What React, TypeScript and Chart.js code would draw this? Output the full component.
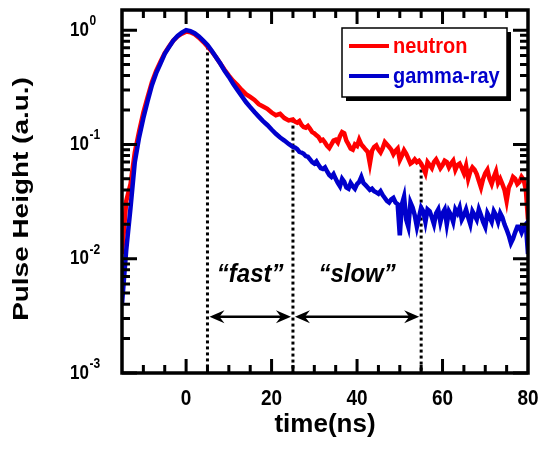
import React, { useEffect, useRef } from "react";
import { Chart, registerables } from "chart.js";
Chart.register(...registerables);

const times = [
  -15, -14, -13, -12, -11, -10, -9, -8, -7, -6, -5, -4, -3, -2, -1,
  0, 1, 2, 3, 4, 5, 6, 7, 8, 9, 10, 11, 12, 13, 14, 15, 16, 17, 18, 19, 20, 21, 22, 23, 24,
  25, 25.5, 26, 26.5, 27, 27.5, 28, 28.5, 29, 29.5, 30, 30.5, 31, 31.5, 32, 32.5, 33, 33.5, 34, 34.5,
  35, 35.5, 36, 36.5, 37, 37.5, 38, 38.5, 39, 39.5, 40, 40.5, 41, 41.5, 42, 42.5, 43, 43.5, 44, 44.5,
  45, 45.5, 46, 46.5, 47, 47.5, 48, 48.5, 49, 49.5, 50, 50.5, 51, 51.5, 52, 52.5, 53, 53.5, 54, 54.5,
  55, 55.5, 56, 56.5, 57, 57.5, 58, 58.5, 59, 59.5, 60, 60.5, 61, 61.5, 62, 62.5, 63, 63.5, 64, 64.5,
  65, 65.5, 66, 66.5, 67, 67.5, 68, 68.5, 69, 69.5, 70, 70.5, 71, 71.5, 72, 72.5, 73, 73.5, 74, 74.5,
  75, 75.5, 76, 76.5, 77, 77.5, 78, 78.5, 79, 79.5, 80,
];

const neutron = [
  0.011, 0.032, 0.045, 0.085, 0.13, 0.19, 0.26, 0.35, 0.44, 0.53, 0.63, 0.72, 0.81, 0.88, 0.93,
  0.97, 0.96, 0.92, 0.86, 0.79, 0.72, 0.65, 0.58, 0.51, 0.45, 0.4, 0.36, 0.33, 0.3, 0.275, 0.26, 0.245, 0.225, 0.215, 0.205, 0.19, 0.18, 0.185, 0.17, 0.162,
  0.165, 0.158, 0.155, 0.16, 0.148, 0.142, 0.14, 0.145, 0.137, 0.128, 0.125, 0.12, 0.116, 0.108, 0.11, 0.104, 0.097, 0.093, 0.1, 0.108,
  0.11, 0.104, 0.118, 0.128, 0.125, 0.108, 0.1, 0.092, 0.09, 0.1, 0.097, 0.11, 0.1, 0.095, 0.09, 0.086, 0.068, 0.088, 0.095, 0.098,
  0.09, 0.085, 0.093, 0.105, 0.1, 0.095, 0.09, 0.082, 0.088, 0.092, 0.073, 0.08, 0.089, 0.083, 0.075, 0.068, 0.07, 0.074, 0.07, 0.072,
  0.068, 0.062, 0.056, 0.07, 0.066, 0.062, 0.07, 0.074, 0.068, 0.062, 0.066, 0.072, 0.07, 0.063, 0.068, 0.072, 0.06, 0.066, 0.068, 0.062,
  0.056, 0.065, 0.05, 0.058, 0.063, 0.06, 0.055, 0.048, 0.042, 0.05, 0.056, 0.06, 0.05, 0.045, 0.052, 0.058, 0.046, 0.05, 0.045, 0.04,
  0.032, 0.042, 0.046, 0.052, 0.05, 0.045, 0.047, 0.052, 0.049, 0.04, 0.022,
];

const gamma = [
  0.004, 0.012, 0.028, 0.07, 0.115, 0.17, 0.24, 0.33, 0.42, 0.51, 0.62, 0.71, 0.81, 0.89, 0.95,
  1.0, 0.98, 0.94, 0.88, 0.81, 0.74, 0.66, 0.58, 0.51, 0.44, 0.39, 0.34, 0.3, 0.265, 0.235, 0.212, 0.192, 0.175, 0.16, 0.148, 0.135, 0.124, 0.115, 0.108, 0.101,
  0.095, 0.094, 0.091, 0.086, 0.085, 0.083, 0.079, 0.078, 0.074, 0.07, 0.068, 0.071, 0.066, 0.062, 0.061, 0.063, 0.058, 0.054, 0.052, 0.055,
  0.05, 0.046, 0.043, 0.05, 0.047, 0.042, 0.041, 0.046, 0.043, 0.041, 0.045, 0.047, 0.052, 0.046, 0.044, 0.042, 0.04, 0.041, 0.039, 0.038,
  0.037, 0.039, 0.036, 0.034, 0.032, 0.031, 0.033, 0.034, 0.031, 0.03, 0.016, 0.03, 0.035, 0.022, 0.019, 0.031, 0.028, 0.024, 0.019, 0.023,
  0.028, 0.026, 0.021, 0.027, 0.026, 0.023, 0.02, 0.025, 0.027, 0.021, 0.025, 0.027, 0.02, 0.026, 0.024, 0.021, 0.027, 0.025, 0.028, 0.022,
  0.024, 0.027, 0.023, 0.02, 0.026, 0.024, 0.022, 0.027, 0.024, 0.021, 0.019, 0.025, 0.023, 0.021, 0.026, 0.024, 0.021, 0.025, 0.023, 0.02,
  0.018, 0.016, 0.0137, 0.015, 0.017, 0.019, 0.019, 0.017, 0.019, 0.02, 0.011,
];

const xTickLabels = [0, 20, 40, 60, 80];
const yDecades = [0.001, 0.01, 0.1, 1];
const yExponents = ["-3", "-2", "-1", "0"];
const markerTimes = [5, 25, 55];
const regionLabels = ["\u201Cfast\u201D", "\u201Cslow\u201D"];
const regionStarts = [5, 25];
const regionEnds = [25, 55];
const arrowLevel = 0.0031;
const labelLevel = 0.0072;

const RED = "#ff0000";
const BLUE = "#0000cc";
const FONT = '"Liberation Sans", Arial, sans-serif';

function txt(ctx, s, x, y, font, color, align, sy = 1, rot = 0, sx = 1) {
  ctx.save();
  ctx.translate(x, y);
  if (rot) ctx.rotate(rot);
  ctx.scale(sx, sy);
  ctx.font = font;
  ctx.fillStyle = color;
  ctx.textAlign = align;
  ctx.textBaseline = "middle";
  ctx.fillText(s, 0, 0);
  ctx.restore();
}

function arrowHead(ctx, tipX, y, dir) {
  ctx.beginPath();
  ctx.moveTo(tipX, y);
  ctx.lineTo(tipX + dir * 15, y - 6.5);
  ctx.lineTo(tipX + dir * 10, y);
  ctx.lineTo(tipX + dir * 15, y + 6.5);
  ctx.closePath();
  ctx.fill();
}

const decorPlugin = {
  id: "decor",
  beforeDatasetsDraw(chart) {
    const { ctx, chartArea, scales } = chart;
    const x = scales.x, y = scales.y;
    ctx.save();
    ctx.strokeStyle = "#000";
    ctx.lineWidth = 3;
    ctx.setLineDash([3, 3]);
    markerTimes.forEach((t) => {
      const i = times.indexOf(t);
      const px = x.getPixelForValue(t);
      ctx.beginPath();
      ctx.moveTo(px, y.getPixelForValue(neutron[i]));
      ctx.lineTo(px, chartArea.bottom);
      ctx.stroke();
    });
    ctx.restore();
  },
  afterDraw(chart) {
    const { ctx, chartArea, scales } = chart;
    const { left, right, top, bottom } = chartArea;
    const x = scales.x, y = scales.y;
    ctx.save();
    ctx.strokeStyle = "#000";
    ctx.lineWidth = 3.5;
    ctx.strokeRect(left, top, right - left, bottom - top);
    ctx.lineWidth = 3;
    for (let v = -10; v < 80; v += 5) {
      const px = x.getPixelForValue(v);
      const len = v % 20 === 0 ? 14 : 8;
      ctx.beginPath();
      ctx.moveTo(px, bottom);
      ctx.lineTo(px, bottom - len);
      ctx.moveTo(px, top);
      ctx.lineTo(px, top + len);
      ctx.stroke();
    }
    yDecades.forEach((d) => {
      for (let k = 1; k <= 9; k++) {
        const v = d * k;
        if (v >= y.max || (v <= y.min && k > 1)) continue;
        const py = y.getPixelForValue(v);
        const len = k === 1 ? 15 : 8;
        ctx.beginPath();
        ctx.moveTo(left, py);
        ctx.lineTo(left + len, py);
        ctx.moveTo(right, py);
        ctx.lineTo(right - len, py);
        ctx.stroke();
      }
    });
    xTickLabels.forEach((v) => {
      txt(ctx, String(v), x.getPixelForValue(v), 399, `bold 19px ${FONT}`, "#000", "center", 1.15);
    });
    yDecades.forEach((d, i) => {
      const py = y.getPixelForValue(d);
      txt(ctx, "10", 89, py, `bold 17px ${FONT}`, "#000", "right", 1.2);
      txt(ctx, yExponents[i], 89.5, py - 9, `bold 12px ${FONT}`, "#000", "left", 1.2);
    });
    txt(ctx, "time(ns)", 325, 425, `bold 26px ${FONT}`, "#000", "center", 1.0);
    txt(ctx, "Pulse Height (a.u.)", 22, 199, `bold 22px ${FONT}`, "#000", "center", 1, -Math.PI / 2, 1.27);
    ctx.fillStyle = "#000";
    ctx.lineWidth = 2.5;
    const ay = y.getPixelForValue(arrowLevel);
    regionStarts.forEach((s, i) => {
      const x1 = x.getPixelForValue(s) + 2;
      const x2 = x.getPixelForValue(regionEnds[i]) - 2;
      ctx.beginPath();
      ctx.moveTo(x1 + 8, ay);
      ctx.lineTo(x2 - 8, ay);
      ctx.stroke();
      arrowHead(ctx, x1, ay, 1);
      arrowHead(ctx, x2, ay, -1);
      const cx = (x.getPixelForValue(s) + x.getPixelForValue(regionEnds[i])) / 2;
      txt(ctx, regionLabels[i], cx, y.getPixelForValue(labelLevel), `italic bold 24px ${FONT}`, "#000", "center", 1.1);
    });
    const lx = 342, ly = 28, lw = 165, lh = 69;
    ctx.fillStyle = "#000";
    ctx.fillRect(lx + 4, ly + 4, lw, lh);
    ctx.fillStyle = "#fff";
    ctx.fillRect(lx, ly, lw, lh);
    ctx.lineWidth = 1.5;
    ctx.strokeRect(lx, ly, lw, lh);
    chart.data.datasets
      .slice()
      .sort((a, b) => b.order - a.order)
      .forEach((ds, i) => {
        const yy = 46 + i * 30;
        ctx.strokeStyle = ds.borderColor;
        ctx.lineWidth = 4;
        ctx.beginPath();
        ctx.moveTo(349, yy);
        ctx.lineTo(389, yy);
        ctx.stroke();
        txt(ctx, ds.label, 393, yy + 1, `bold 20px ${FONT}`, ds.borderColor, "left", 1.1);
      });
    ctx.restore();
  },
};

export default function App() {
  const ref = useRef(null);
  useEffect(() => {
    document.body.style.margin = "0";
    const chart = new Chart(ref.current, {
      type: "line",
      data: {
        datasets: [
          {
            label: "neutron",
            data: times.map((t, i) => ({ x: t, y: neutron[i] })),
            borderColor: RED,
            borderWidth: 4.5,
            pointRadius: 0,
            order: 2,
          },
          {
            label: "gamma-ray",
            data: times.map((t, i) => ({ x: t, y: gamma[i] })),
            borderColor: BLUE,
            borderWidth: 4.5,
            pointRadius: 0,
            order: 1,
          },
        ],
      },
      options: {
        animation: false,
        responsive: false,
        maintainAspectRatio: false,
        layout: { padding: { left: 122, top: 10, right: 13, bottom: 80 } },
        plugins: { legend: { display: false }, tooltip: { enabled: false } },
        elements: { line: { tension: 0 } },
        scales: {
          x: { type: "linear", min: -15, max: 80, display: false },
          y: { type: "logarithmic", min: 0.001, max: 1.5, display: false },
        },
      },
      plugins: [decorPlugin],
    });
    return () => chart.destroy();
  }, []);
  return (
    <div style={{ width: 541, height: 453 }}>
      <canvas ref={ref} width={541} height={453} style={{ display: "block" }} />
    </div>
  );
}
